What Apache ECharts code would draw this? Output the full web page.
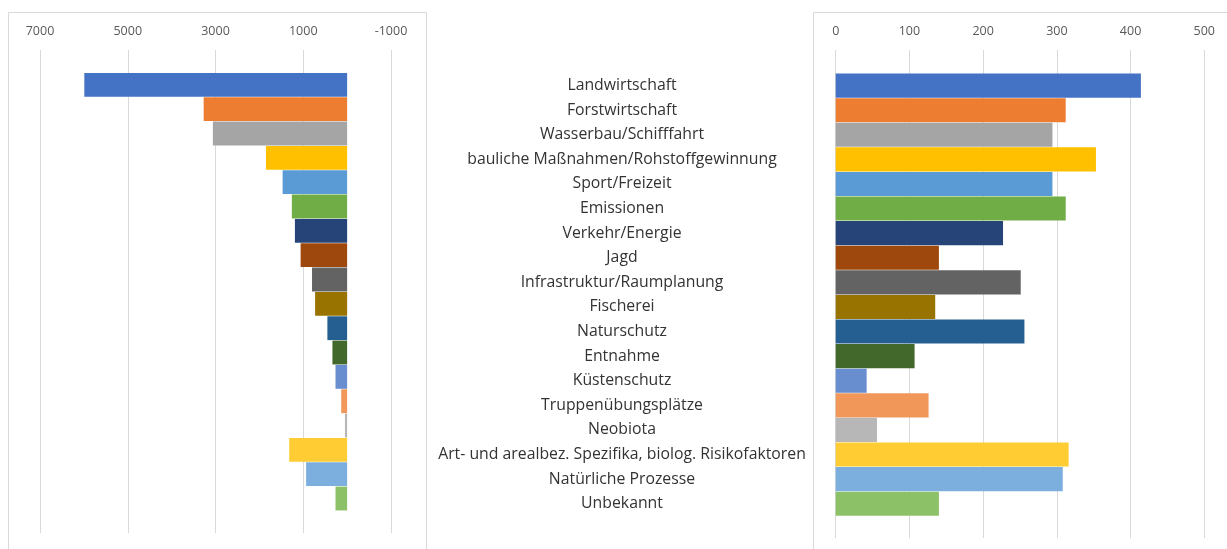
<!DOCTYPE html>
<html>
<head>
<meta charset="utf-8">
<script src="https://cdn.jsdelivr.net/npm/echarts@6/dist/echarts.min.js"></script>
<style>
    html, body { margin: 0; padding: 0; background: #fff; }
    #main { width: 1227px; height: 549px; }
</style>
</head>
<body>
<div id="main"></div>
<script>
    // Kategorien (von oben nach unten)
    var categories = [
        'Landwirtschaft', 'Forstwirtschaft', 'Wasserbau/Schifffahrt',
        'bauliche Maßnahmen/Rohstoffgewinnung', 'Sport/Freizeit', 'Emissionen',
        'Verkehr/Energie', 'Jagd', 'Infrastruktur/Raumplanung', 'Fischerei',
        'Naturschutz', 'Entnahme', 'Küstenschutz', 'Truppenübungsplätze',
        'Neobiota', 'Art- und arealbez. Spezifika, biolog. Risikofaktoren',
        'Natürliche Prozesse', 'Unbekannt'
    ];
    // linkes Diagramm (Achse umgekehrt)
    var leftValues = [5990, 3270, 3060, 1850, 1470, 1260, 1190, 1060, 800, 730,
                      450, 335, 265, 135, 50, 1320, 935, 265];
    // rechtes Diagramm
    var rightValues = [414, 312, 294, 353, 294, 312, 227, 140, 251, 135,
                       256, 107, 42, 126, 56, 316, 308, 140];
    var leftTicks = [-1000, 7000, 2000];   // min, max, interval
    var rightTicks = [0, 500, 100];

    var colors = ['#4472C4', '#ED7D31', '#A5A5A5', '#FFC000', '#5B9BD5', '#70AD47',
                  '#264478', '#9E480E', '#636363', '#997300', '#255E91', '#43682B',
                  '#698ED0', '#F1975A', '#B7B7B7', '#FFCD33', '#7CAFDD', '#8CC168'];

    function colored(vals) {
        return vals.map(function (v, i) {
            return { value: v, itemStyle: { color: colors[i] } };
        });
    }

    var font = 'Open Sans, Liberation Sans, sans-serif';
    var gridColor = '#d9d9d9';
    var tickLabel = {
        margin: 12, color: '#595959', fontSize: 12.5, fontFamily: font,
        formatter: function (v) { return String(v); }
    };

    var myChart = echarts.init(document.getElementById('main'));

    var option = {
        animation: false,
        textStyle: { fontFamily: font },
        graphic: [
            { type: 'rect', shape: { x: 8.5, y: 12.5, width: 418, height: 560 },
              style: { fill: 'none', stroke: gridColor, lineWidth: 1 } },
            { type: 'rect', shape: { x: 813.5, y: 12.5, width: 500, height: 560 },
              style: { fill: 'none', stroke: gridColor, lineWidth: 1 } }
        ],
        grid: [
            { left: 40, right: 836, top: 72.7, height: 438 },      // linke Balken
            { left: 40, right: 836, top: 50, bottom: 16 },         // linke Gitterlinien
            { left: 835.7, right: 22.7, top: 73.3, height: 442.7 },// rechte Balken
            { left: 835.7, right: 22.7, top: 50, bottom: 11 }      // rechte Gitterlinien
        ],
        xAxis: [
            { gridIndex: 0, type: 'value', inverse: true, show: false,
              min: leftTicks[0], max: leftTicks[1], interval: leftTicks[2] },
            { gridIndex: 1, type: 'value', inverse: true, position: 'top',
              min: leftTicks[0], max: leftTicks[1], interval: leftTicks[2],
              axisLine: { show: false }, axisTick: { show: false },
              axisLabel: tickLabel,
              splitLine: { lineStyle: { color: gridColor, width: 1 } } },
            { gridIndex: 2, type: 'value', show: false,
              min: rightTicks[0], max: rightTicks[1], interval: rightTicks[2] },
            { gridIndex: 3, type: 'value', position: 'top',
              min: rightTicks[0], max: rightTicks[1], interval: rightTicks[2],
              axisLine: { show: false }, axisTick: { show: false },
              axisLabel: tickLabel,
              splitLine: { lineStyle: { color: gridColor, width: 1 } } }
        ],
        yAxis: [
            { gridIndex: 0, type: 'category', data: categories, inverse: true, show: false },
            { gridIndex: 1, type: 'value', min: 0, max: 1, show: false },
            { gridIndex: 2, type: 'category', data: categories, inverse: true,
              axisLine: { show: false }, axisTick: { show: false },
              axisLabel: { align: 'center', margin: 213.7, color: '#333', fontSize: 15.8,
                           fontFamily: font, interval: 0 } },
            { gridIndex: 3, type: 'value', min: 0, max: 1, show: false }
        ],
        series: [
            { type: 'bar', xAxisIndex: 0, yAxisIndex: 0, barCategoryGap: '2%',
              data: colored(leftValues) },
            { type: 'bar', xAxisIndex: 2, yAxisIndex: 2, barCategoryGap: '2%',
              data: colored(rightValues) }
        ]
    };

    myChart.setOption(option);
</script>
</body>
</html>
